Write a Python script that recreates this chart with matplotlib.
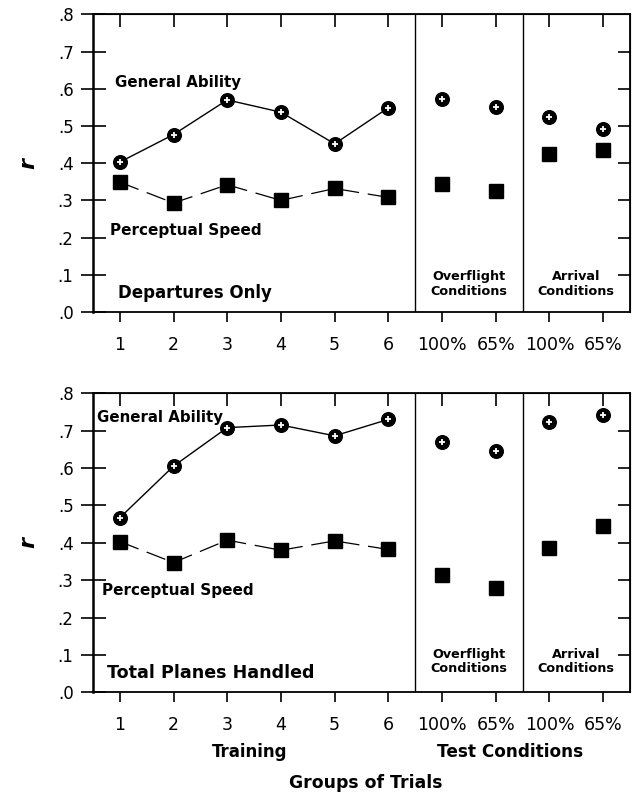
import matplotlib.pyplot as plt
import numpy as np

plt.rcParams['font.family'] = ['DejaVu Sans']

# x positions: 6 training groups, then overflight 100/65, arrival 100/65
x_pos = np.arange(1, 11)
x_labels = ['1', '2', '3', '4', '5', '6', '100%', '65%', '100%', '65%']
y_ticks = [0.0, 0.1, 0.2, 0.3, 0.4, 0.5, 0.6, 0.7, 0.8]
y_labels = ['.0', '.1', '.2', '.3', '.4', '.5', '.6', '.7', '.8']

# Departures Only
dep_general = [0.403, 0.477, 0.570, 0.537, 0.452, 0.549, 0.573, 0.550, 0.524, 0.492]
dep_percept = [0.349, 0.293, 0.342, 0.300, 0.332, 0.308, 0.345, 0.325, 0.424, 0.436]

# Total Planes Handled
tot_general = [0.467, 0.605, 0.708, 0.715, 0.686, 0.730, 0.670, 0.646, 0.722, 0.741]
tot_percept = [0.403, 0.347, 0.407, 0.380, 0.405, 0.382, 0.314, 0.278, 0.387, 0.445]

fig = plt.figure(figsize=(6.34, 7.96), dpi=100)
ax1 = fig.add_axes([0.1467, 0.608, 0.847, 0.374])
ax2 = fig.add_axes([0.1467, 0.1303, 0.847, 0.3757])


def draw_panel(ax, general, percept, title, title_x, title_size,
               ga_xy, ps_xy, title_y, cond_y):
    n = 6
    ax.plot(x_pos[:n], general[:n], color='black', lw=1.0, zorder=2)
    ax.plot(x_pos[:n], percept[:n], color='black', lw=0.9,
            linestyle=(0, (16, 7)), zorder=2)
    ax.plot(x_pos, general, 'o', ms=9.8, mfc='black', mec='black', zorder=3)
    ax.plot(x_pos, general, '+', ms=4.5, mew=1.3, color='white', zorder=4)
    ax.plot(x_pos, percept, 's', ms=10.5, color='black', zorder=3)

    ax.axvline(6.5, color='black', lw=1.0)
    ax.axvline(8.5, color='black', lw=1.0)

    ax.set_xlim(0.5, 10.5)
    ax.set_ylim(0, 0.8)
    ax.set_xticks(x_pos)
    ax.set_xticklabels(x_labels, fontsize=12.5)
    ax.set_yticks(y_ticks)
    ax.set_yticklabels(y_labels, fontsize=12)
    ax.tick_params(axis='x', direction='out', length=7, width=1.2, pad=10)
    ax.tick_params(axis='y', direction='inout', length=18, width=1.2, pad=5)
    for s in ax.spines.values():
        s.set_linewidth(1.3)
    ax.spines['left'].set_linewidth(1.8)

    top = ax.secondary_xaxis('top')
    top.set_xticks(x_pos)
    top.set_xticklabels([])
    top.tick_params(direction='in', length=9, width=1.2)
    right = ax.secondary_yaxis('right')
    right.set_yticks(y_ticks[1:-1])
    right.set_yticklabels([])
    right.tick_params(direction='in', length=9, width=1.2)

    ax.set_ylabel('r', fontsize=16, fontstyle='italic', fontweight='bold',
                  rotation=90, labelpad=14)

    ax.text(ga_xy[0], ga_xy[1], 'General Ability', fontsize=10.8,
            fontweight='bold', va='center', ha='left')
    ax.text(ps_xy[0], ps_xy[1], 'Perceptual Speed', fontsize=11,
            fontweight='bold', va='center', ha='left')
    ax.text(title_x, title_y, title, fontsize=title_size, fontweight='bold',
            va='center', ha='left')
    ax.text(7.5, cond_y, 'Overflight\nConditions', fontsize=9.2,
            fontweight='bold', va='center', ha='center', linespacing=1.15)
    ax.text(9.5, cond_y, 'Arrival\nConditions', fontsize=9.2,
            fontweight='bold', va='center', ha='center', linespacing=1.15)


draw_panel(ax1, dep_general, dep_percept, 'Departures Only', 0.96, 12,
           (0.91, 0.617), (0.82, 0.22), 0.051, 0.075)
draw_panel(ax2, tot_general, tot_percept, 'Total Planes Handled', 0.76, 12.6,
           (0.575, 0.736), (0.67, 0.273), 0.052, 0.082)

fig.text(250 / 634, 1 - 752 / 796, 'Training', fontsize=12,
         fontweight='bold', ha='center', va='center')
fig.text(510 / 634, 1 - 752 / 796, 'Test Conditions', fontsize=12.2,
         fontweight='bold', ha='center', va='center')
fig.text(366 / 634, 1 - 783 / 796, 'Groups of Trials', fontsize=12.4,
         fontweight='bold', ha='center', va='center')

fig.savefig('out.png', dpi=100)
